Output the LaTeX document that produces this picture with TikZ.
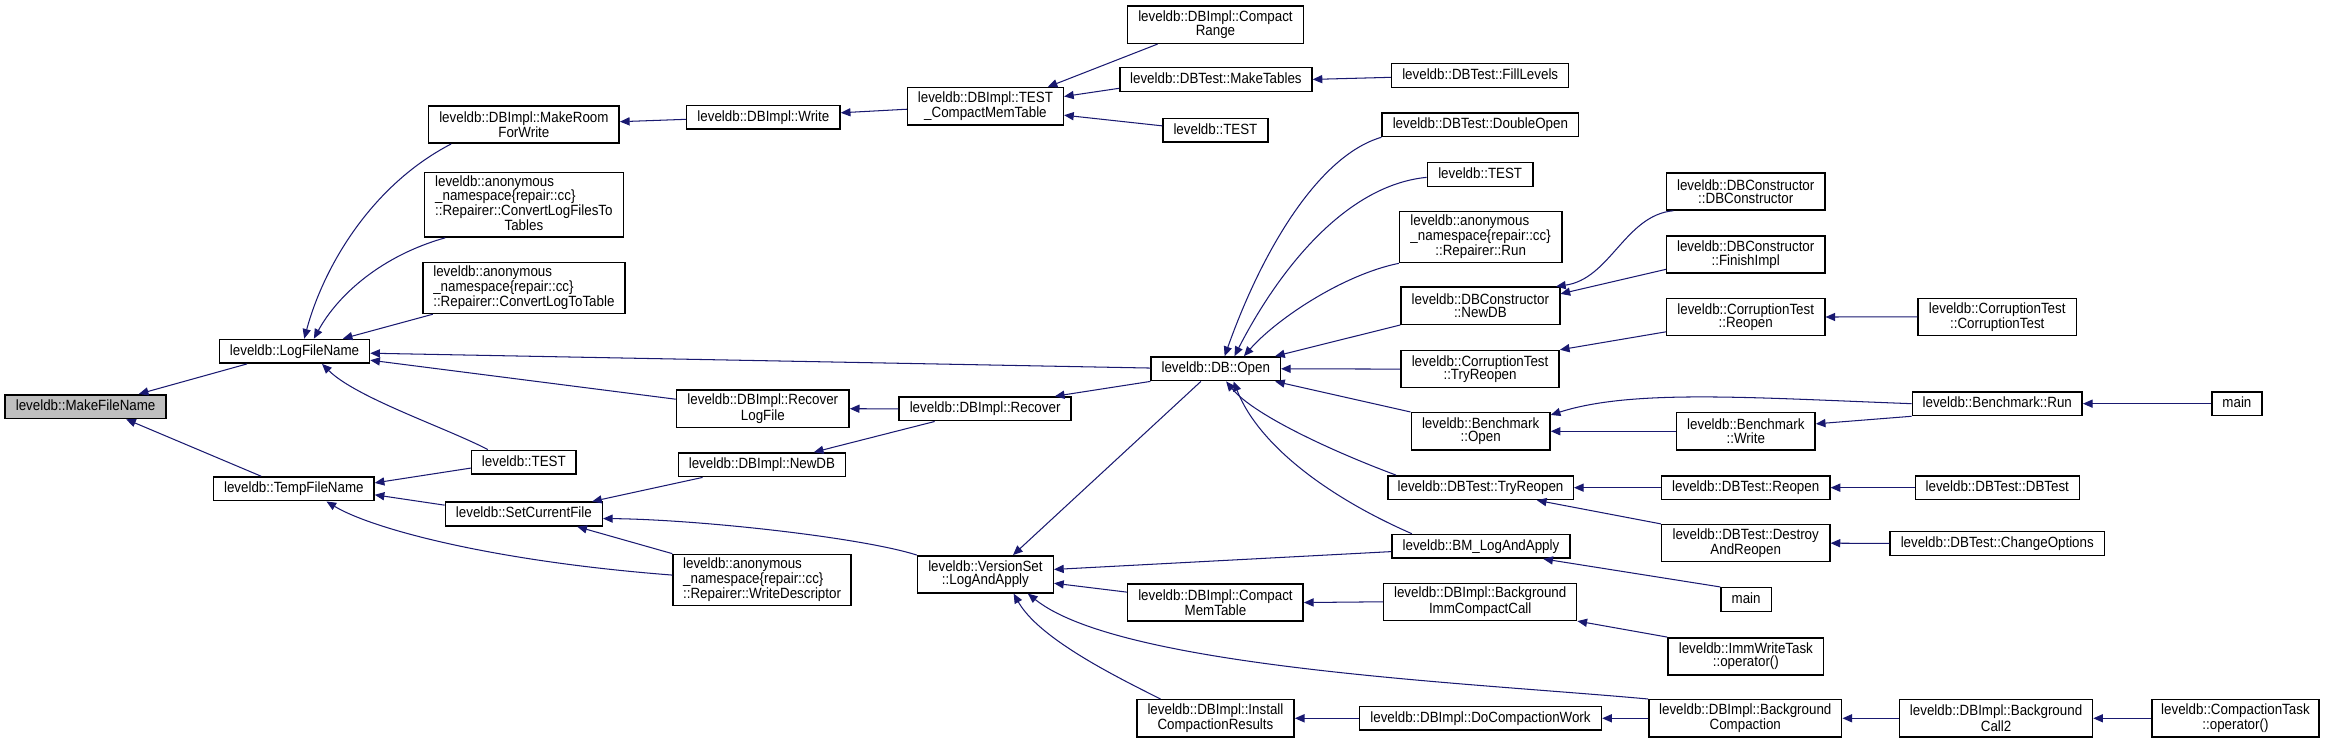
\documentclass[tikz,border=0pt]{standalone}
\usepackage{fontspec}
\setmainfont{Liberation Sans}[FakeStretch=0.9]
\usetikzlibrary{arrows.meta,calc}
\definecolor{edgeblue}{HTML}{191970}
\definecolor{rootgrey}{HTML}{BFBFBF}
\newcommand\doxfont{\fontsize{10}{9}\selectfont}
\tikzset{
  box/.style={draw=black, fill=white, line width=1pt, inner sep=0pt, font=\doxfont},
  one/.style={box, minimum height=16pt, text height=7.2pt, text depth=2pt},
  two/.style={box, align=center, minimum height=25pt},
  three/.style={box, minimum height=34.5pt},
  four/.style={box, minimum height=43.5pt},
  call/.style={draw=edgeblue, line width=0.7pt, {Triangle[length=6.5pt,width=5.5pt]}-},
}
\begin{document}
\begin{tikzpicture}[x=1pt,y=-1pt]
\useasboundingbox (0,0) rectangle (1568,501);
% nodes
\node[one, fill=rootgrey, minimum width=108.5pt] (MFN) at (57.7,274) {leveldb::MakeFileName};
\node[one, minimum width=101pt] (LFN) at (198.5,236.7) {leveldb::LogFileName};
\node[one, minimum width=108pt] (TFN) at (198,329.4) {leveldb::TempFileName};
\node[two, minimum width=128.5pt] (MRW) at (353,84) {leveldb::DBImpl::MakeRoom\\ForWrite};
\node[four, minimum width=134pt] (CLFT) at (353,138) {\begin{tabular}{@{}l@{}}leveldb::anonymous\\\_namespace\{repair::cc\}\\::Repairer::ConvertLogFilesTo\\\multicolumn{1}{@{}c@{}}{Tables}\end{tabular}};
\node[three, minimum width=136pt] (CLTT) at (353,194) {\begin{tabular}{@{}l@{}}leveldb::anonymous\\\_namespace\{repair::cc\}\\::Repairer::ConvertLogToTable\end{tabular}};
\node[one, minimum width=70.5pt] (TST1) at (353,311.4) {leveldb::TEST};
\node[one, minimum width=105.7pt] (SCF) at (353,346.4) {leveldb::SetCurrentFile};
\node[one, minimum width=103.3pt] (DBW) at (514.4,79) {leveldb::DBImpl::Write};
\node[two, minimum width=116.3pt] (RLF) at (514,275.4) {leveldb::DBImpl::Recover\\LogFile};
\node[one, minimum width=112.7pt] (NDB) at (513.4,313.2) {leveldb::DBImpl::NewDB};
\node[three, minimum width=120pt] (WD) at (513.5,390.8) {\begin{tabular}{@{}l@{}}leveldb::anonymous\\\_namespace\{repair::cc\}\\::Repairer::WriteDescriptor\end{tabular}};
\node[two, minimum width=105pt] (TCMT) at (664,71.6) {leveldb::DBImpl::TEST\\\_CompactMemTable};
\node[one, minimum width=116pt] (RCV) at (663.8,275.5) {leveldb::DBImpl::Recover};
\node[two, minimum width=91.5pt] (LAA) at (664,387) {leveldb::VersionSet\\::LogAndApply};
\node[two, minimum width=118.7pt] (CR) at (819,16.7) {leveldb::DBImpl::Compact\\Range};
\node[one, minimum width=129.4pt] (DBMT) at (819.3,53.5) {leveldb::DBTest::MakeTables};
\node[one, minimum width=70.7pt] (TST2) at (819,87.8) {leveldb::TEST};
\node[one, minimum width=87pt] (DBO) at (819.2,248.5) {leveldb::DB::Open};
\node[two, minimum width=118.2pt] (CMT) at (819,406) {leveldb::DBImpl::Compact\\MemTable};
\node[two, minimum width=106pt] (ICR) at (819,484) {leveldb::DBImpl::Install\\CompactionResults};
\node[one, minimum width=119.3pt] (FL) at (997.4,50.8) {leveldb::DBTest::FillLevels};
\node[one, minimum width=132.4pt] (DBDO) at (997.5,84) {leveldb::DBTest::DoubleOpen};
\node[one, minimum width=71.2pt] (TST3) at (997.4,117.5) {leveldb::TEST};
\node[three, minimum width=109.3pt] (RRUN) at (997.7,159.7) {\begin{tabular}{@{}l@{}}leveldb::anonymous\\\_namespace\{repair::cc\}\\\multicolumn{1}{@{}c@{}}{::Repairer::Run}\end{tabular}};
\node[two, minimum width=107pt] (DBCN) at (997.5,206) {leveldb::DBConstructor\\::NewDB};
\node[two, minimum width=106.6pt] (CTTR) at (997.3,248.7) {leveldb::CorruptionTest\\::TryReopen};
\node[two, minimum width=93.5pt] (BMO) at (997.7,290.6) {leveldb::Benchmark\\::Open};
\node[one, minimum width=125pt] (DBTR) at (997.6,328.6) {leveldb::DBTest::TryReopen};
\node[one, minimum width=120.2pt] (BMLA) at (997.9,368.1) {leveldb::BM\_LogAndApply};
\node[two, minimum width=130pt] (BICC) at (997.4,405.5) {leveldb::DBImpl::Background\\ImmCompactCall};
\node[one, minimum width=163pt] (DCW) at (997.6,484) {leveldb::DBImpl::DoCompactionWork};
\node[two, minimum width=106.6pt] (DBCC) at (1176.3,129) {leveldb::DBConstructor\\::DBConstructor};
\node[two, minimum width=106.6pt] (DBCF) at (1176.3,171.5) {leveldb::DBConstructor\\::FinishImpl};
\node[two, minimum width=106.6pt] (CTRE) at (1176.3,213.6) {leveldb::CorruptionTest\\::Reopen};
\node[two, minimum width=93.3pt] (BMW) at (1176.4,290.6) {leveldb::Benchmark\\::Write};
\node[one, minimum width=113.4pt] (DBRE) at (1176.3,328.6) {leveldb::DBTest::Reopen};
\node[two, minimum width=113.4pt] (DAR) at (1176.3,366) {leveldb::DBTest::Destroy\\AndReopen};
\node[one, minimum width=33.8pt] (MAIN2) at (1176.6,404) {main};
\node[two, minimum width=104.8pt] (IWT) at (1176.4,442.3) {leveldb::ImmWriteTask\\::operator()};
\node[two, minimum width=130pt] (BC) at (1176,484) {leveldb::DBImpl::Background\\Compaction};
\node[two, minimum width=106.6pt] (CTCT) at (1345.8,213.5) {leveldb::CorruptionTest\\::CorruptionTest};
\node[one, minimum width=114.5pt] (BMR) at (1345.8,272) {leveldb::Benchmark::Run};
\node[one, minimum width=110.5pt] (DBT) at (1345.8,328.6) {leveldb::DBTest::DBTest};
\node[one, minimum width=144.4pt] (DBCO) at (1345.8,366.2) {leveldb::DBTest::ChangeOptions};
\node[two, minimum width=130pt] (BC2) at (1345,484) {leveldb::DBImpl::Background\\Call2};
\node[one, minimum width=33.5pt] (MAIN1) at (1507.3,272) {main};
\node[two, minimum width=112.6pt] (CTO) at (1506.3,484) {leveldb::CompactionTask\\::operator()};
% edges
\draw[call] ($(MFN.north)+(35.8,0)$) -- ($(LFN.south)+(-32,0)$);
\draw[call] ($(MFN.south)+(27.3,0)$) -- ($(TFN.north)+(-22,0)$);
\draw[call] ($(LFN.north)+(6.5,0)$) .. controls (218,180) and (250,125) .. ($(MRW.south)+(-49,0)$);
\draw[call] ($(LFN.north)+(13,0)$) .. controls (228,198) and (258,172) .. ($(CLFT.south)+(-53,0)$);
\draw[call] ($(LFN.north)+(32.5,0)$) -- ($(CLTT.south)+(-61.4,0)$);
\draw[call] ($(LFN.east)+(0,1.3)$) -- ($(DBO.west)+(0,-0.5)$);
\draw[call] ($(LFN.east)+(0,6)$) -- ($(RLF.west)+(0,-6.4)$);
\draw[call] ($(LFN.south)+(18.5,0)$) .. controls (240,268) and (300,288) .. ($(TST1.north)+(-24.3,0)$);
\draw[call] ($(TFN.east)+(0,-4)$) -- ($(TST1.west)+(0,4)$);
\draw[call] ($(TFN.east)+(0,4)$) -- ($(SCF.west)+(0,-6)$);
\draw[call] ($(TFN.south)+(22,0)$) .. controls (250,356) and (330,378) .. ($(WD.west)+(0,-3.3)$);
\draw[call] ($(SCF.north)+(46,0)$) -- ($(NDB.south)+(-40,0)$);
\draw[call] ($(SCF.east)+(0,3)$) .. controls (470,350) and (580,362) .. (LAA.north west);
\draw[call] ($(SCF.south)+(36,0)$) -- (WD.north west);
\draw[call] ($(MRW.east)+(0,-2)$) -- ($(DBW.west)+(0,1.4)$);
\draw[call] ($(DBW.east)+(0,-3)$) -- ($(TCMT.west)+(0,2)$);
\draw[call] ($(TCMT.north)+(42,0)$) -- ($(CR.south)+(-39,0)$);
\draw[call] ($(TCMT.east)+(0,-6.6)$) -- ($(DBMT.west)+(0,6)$);
\draw[call] ($(TCMT.east)+(0,6)$) -- ($(TST2.west)+(0,-3)$);
\draw[call] (DBMT.east) -- ($(FL.west)+(0,1.3)$);
\draw[call] (RLF.east) -- (RCV.west);
\draw[call] ($(NDB.north)+(35,0)$) -- ($(RCV.south)+(-34,0)$);
\draw[call] ($(RCV.north)+(47,0)$) -- (DBO.south west);
\draw[call] ($(LAA.north)+(18.6,0)$) -- ($(DBO.south)+(-10,0)$);
\draw[call] ($(DBO.north)+(6,0)$) .. controls (850,170) and (888,105) .. (DBDO.south west);
\draw[call] ($(DBO.north)+(12.6,0)$) .. controls (860,185) and (905,125) .. ($(TST3.west)+(0,2)$);
\draw[call] ($(DBO.north)+(19,0)$) .. controls (860,215) and (905,185) .. (RRUN.south west);
\draw[call] ($(DBO.north east)+(-4,0)$) -- (DBCN.south west);
\draw[call] (DBO.east) -- (CTTR.west);
\draw[call] ($(DBO.south east)+(-4,0)$) -- (BMO.north west);
\draw[call] ($(DBO.south)+(7,0)$) .. controls (845,280) and (900,305) .. ($(DBTR.north west)+(6,0)$);
\draw[call] ($(DBO.south)+(12,0)$) .. controls (848,300) and (895,335) .. ($(BMLA.north west)+(14,0)$);
\draw[call] ($(DBCN.north east)+(-3,0)$) .. controls (1085,188) and (1095,145) .. ($(DBCC.south west)+(5,0)$);
\draw[call] ($(DBCN.east)+(0,-8)$) -- ($(DBCF.west)+(0,10)$);
\draw[call] (CTTR.north east) -- ($(CTRE.west)+(0,10)$);
\draw[call] (CTRE.east) -- (CTCT.west);
\draw[call] ($(BMO.north east)+(0,2)$) .. controls (1100,262) and (1180,268) .. (BMR.west);
\draw[call] (BMO.east) -- (BMW.west);
\draw[call] ($(BMW.east)+(0,-5)$) -- (BMR.south west);
\draw[call] (BMR.east) -- (MAIN1.west);
\draw[call] (DBTR.east) -- (DBRE.west);
\draw[call] ($(DBTR.south)+(38,0)$) -- (DAR.north west);
\draw[call] (DBRE.east) -- (DBT.west);
\draw[call] (DAR.east) -- (DBCO.west);
\draw[call] ($(LAA.east)+(0,-3.3)$) -- ($(BMLA.west)+(0,3.6)$);
\draw[call] ($(LAA.east)+(0,6)$) -- ($(CMT.west)+(0,-7)$);
\draw[call] ($(LAA.south)+(28.6,0)$) .. controls (755,450) and (990,460) .. (BC.north west);
\draw[call] ($(LAA.south)+(19,0)$) .. controls (700,430) and (750,455) .. ($(ICR.north west)+(16.5,0)$);
\draw[call] ($(BMLA.south)+(42,0)$) -- (MAIN2.north west);
\draw[call] (CMT.east) -- (BICC.west);
\draw[call] (BICC.south east) -- (IWT.north west);
\draw[call] (ICR.east) -- (DCW.west);
\draw[call] (DCW.east) -- (BC.west);
\draw[call] (BC.east) -- (BC2.west);
\draw[call] (BC2.east) -- (CTO.west);
\end{tikzpicture}
\end{document}
